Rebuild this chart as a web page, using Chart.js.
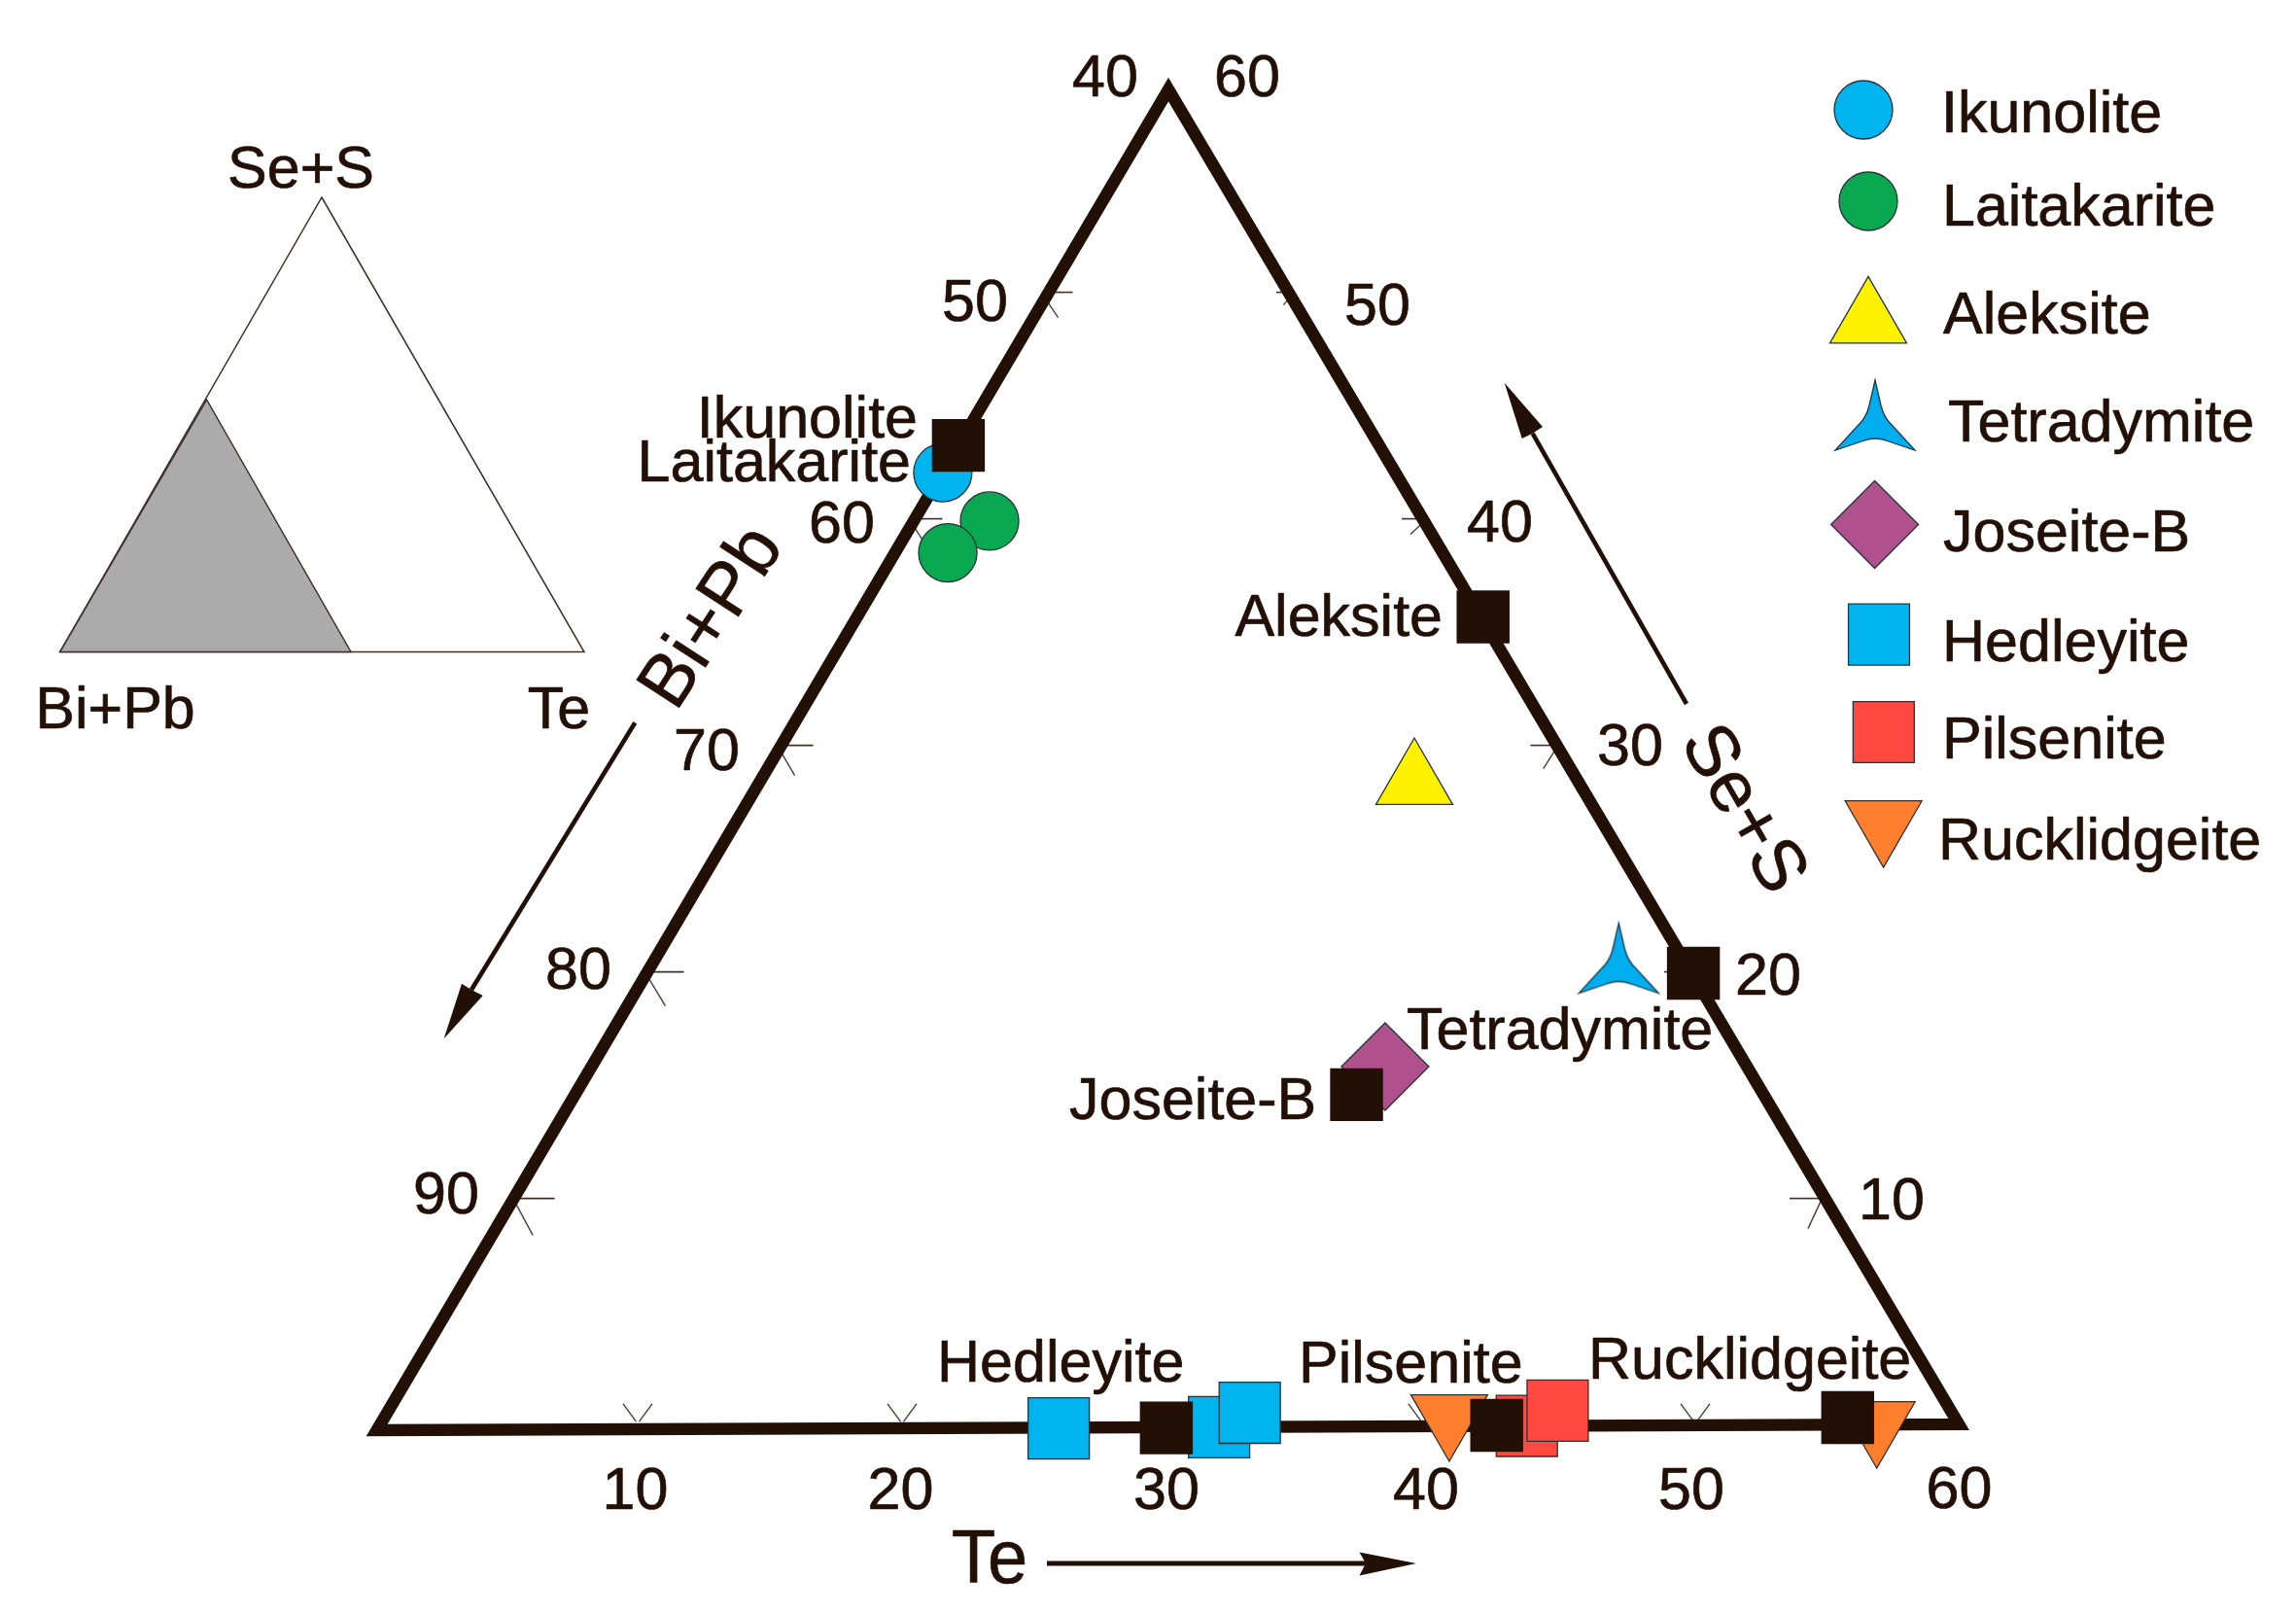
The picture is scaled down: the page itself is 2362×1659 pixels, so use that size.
<!DOCTYPE html>
<html>
<head>
<meta charset="utf-8">
<style>html,body{margin:0;padding:0;background:#fff}canvas{display:block}</style>
<script src="https://cdn.jsdelivr.net/npm/chart.js@4"></script>
</head>
<body>
<canvas id="c" width="2362" height="1659"></canvas>
<script>
// ---------- data: Te and Se+S contents (at.%), Bi+Pb is the remainder ----------
const mineralNames = ["Ikunolite","Laitakarite","Aleksite","Tetradymite","Joseite-B","Hedleyite","Pilsenite","Rucklidgeite"];
const ikunoliteTe = [0.52];            const ikunoliteS = [42.04];
const laitakariteTe = [3.36, 2.48];    const laitakariteS = [39.9, 38.5];
const aleksiteTe = [25.19];            const aleksiteS = [28.37];
const tetradymiteTe = [36.8];          const tetradymiteS = [20.61];
const joseiteTe = [30.36];             const joseiteS = [15.82];
const hedleyiteTe = [26.0, 32.04, 32.88];  const hedleyiteS = [-0.15, -0.1, 0.54];
const pilseniteTe = [43.65, 44.48];    const pilseniteS = [-0.04, 0.63];
const rucklidgeiteTe = [40.52, 56.84]; const rucklidgeiteS = [0.35, 0.05];
// ideal compositions (black squares)
const idealNames = ["Ikunolite","Laitakarite","Aleksite","Tetradymite","Joseite-B","Hedleyite","Pilsenite","Rucklidgeite"];
const idealTe = [0.51, 24.14, 39.96, 29.9, 30.06, 42.5, 55.6];
const idealS = [43.24, 35.67, 19.94, 14.58, -0.13, -0.02, 0.33];
// frame of the main diagram as drawn: starts part-way up the left side so that every corner is a mitred join
const frameTe = [0.43, 0.25, 59.95, 0.6, 0.43];
const frameS = [30, -0.23, 0.03, 58.95, 30];
// tick labels
const bottomTicks = [10,20,30,40,50,60];
const bottomTickAt = [10,20,30,39.7,50];
const leftTicks = [40,50,60,70,80,90];
const rightTicks = [60,50,40,30,20,10];

// ---------- layout constants ----------
const INK = "#221006";
const FONT = '"Liberation Sans", Arial, sans-serif';
const PX0 = 384, PXK = 27.2, PY0 = 1465.6, PYK = 23.3;
const LEFT_TE = 0.35; // left side sits slightly inside the nominal Te=0 line
const toPoint = (te, s) => ({x: te + s / 2, y: s});
const zip = (a, b) => a.map((v, i) => toPoint(v, b[i]));

function starSprite() {
  const c = document.createElement("canvas");
  c.width = 90; c.height = 80;
  const g = c.getContext("2d");
  g.translate(45, 40);
  g.beginPath();
  g.moveTo(0, -36);
  g.lineTo(6, -10);
  g.quadraticCurveTo(9, 3, 18, 11);
  g.lineTo(41, 36);
  g.lineTo(14, 27);
  g.quadraticCurveTo(0, 21, -14, 27);
  g.lineTo(-41, 36);
  g.lineTo(-18, 11);
  g.quadraticCurveTo(-9, 3, -6, -10);
  g.closePath();
  g.fillStyle = "#00aeef"; g.fill();
  g.lineWidth = 1.3; g.strokeStyle = "#173a4a"; g.stroke();
  return c;
}
const star = starSprite();

const markStyles = {
  Ikunolite:    {pointStyle:"circle",   pointRadius:30, pointBackgroundColor:"#00b4f0", pointRotation:0},
  Laitakarite:  {pointStyle:"circle",   pointRadius:30, pointBackgroundColor:"#0aa850", pointRotation:0},
  Aleksite:     {pointStyle:"triangle", pointRadius:45.6, pointBackgroundColor:"#fff200", pointRotation:0},
  Tetradymite:  {pointStyle:star,       pointRadius:45, pointBackgroundColor:"#00aeef", pointRotation:0},
  "Joseite-B":  {pointStyle:"rectRot",  pointRadius:45, pointBackgroundColor:"#b0508c", pointRotation:0},
  Hedleyite:    {pointStyle:"rect",     pointRadius:44.5, pointBackgroundColor:"#00b4f0", pointRotation:0},
  Pilsenite:    {pointStyle:"rect",     pointRadius:44.5, pointBackgroundColor:"#ff4940", pointRotation:0},
  Rucklidgeite: {pointStyle:"triangle", pointRadius:45.6, pointBackgroundColor:"#ff7f2e", pointRotation:180}
};
const series = {
  Ikunolite: zip(ikunoliteTe, ikunoliteS), Laitakarite: zip(laitakariteTe, laitakariteS),
  Aleksite: zip(aleksiteTe, aleksiteS), Tetradymite: zip(tetradymiteTe, tetradymiteS),
  "Joseite-B": zip(joseiteTe, joseiteS), Hedleyite: zip(hedleyiteTe, hedleyiteS),
  Pilsenite: zip(pilseniteTe, pilseniteS), Rucklidgeite: zip(rucklidgeiteTe, rucklidgeiteS)
};
const drawOrder = {Ikunolite:5, Laitakarite:6, Aleksite:5, Tetradymite:5, "Joseite-B":5, Hedleyite:5, Pilsenite:5, Rucklidgeite:5};

const datasets = [
  {label:"Ideal composition", data: zip(idealTe, idealS), order:1, showLine:false,
   pointStyle:"rect", pointRadius:38.5, pointBackgroundColor:INK, pointBorderWidth:0},
  ...mineralNames.map(n => Object.assign({label:n, data:series[n], order:drawOrder[n], showLine:false,
      pointBorderColor:"#26333a", pointBorderWidth:1.3}, markStyles[n])),
  {label:"Frame", data: zip(frameTe, frameS), order:20, showLine:true, borderColor:INK, borderWidth:12.5,
   borderJoinStyle:"miter", pointRadius:0, fill:false, clip:false}
];

// ---------- page text and furniture, in page pixels ----------
const pageText = {
  tickLeft:  [[1137,99],[1003,330],[866,558],[727,792],[595,1017],[459,1248]],
  tickRight: [[1283,99],[1417,334],[1543,557],[1677,787],[1819,1023],[1946,1254]],
  tickBottom:[[653.5,1552],[926.5,1552],[1200,1552],[1467,1552],[1740,1552],[2015.5,1551]],
  tag: {
    Ikunolite:["right",944,450], Laitakarite:["right",937,495], Aleksite:["right",1484,654],
    Tetradymite:["left",1447,1079], "Joseite-B":["left",1100,1151], Hedleyite:["left",964,1421],
    Pilsenite:["left",1336,1421.5], Rucklidgeite:["left",1634,1418]
  },
  legendMark: {Ikunolite:[1917,113],Laitakarite:[1922,207],Aleksite:[1922,330],Tetradymite:[1929,427],
    "Joseite-B":[1928.6,539.5],Hedleyite:[1933,652.6],Pilsenite:[1937.8,753],Rucklidgeite:[1937.6,846.5]},
  legendText: {Ikunolite:[1997,135.5],Laitakarite:[1998,232],Aleksite:[1999,343],Tetradymite:[2004,453.6],
    "Joseite-B":[1999,566.6],Hedleyite:[1998,679.7],Pilsenite:[1998,780],Rucklidgeite:[1994,884]}
};

function line(ctx, x1, y1, x2, y2, w, col) {
  ctx.beginPath(); ctx.moveTo(x1, y1); ctx.lineTo(x2, y2);
  ctx.lineWidth = w; ctx.strokeStyle = col || INK; ctx.stroke();
}
function arrow(ctx, sx, sy, tx, ty, b1x, b1y, nx, ny, b2x, b2y, w) {
  line(ctx, sx, sy, nx, ny, w);
  ctx.beginPath(); ctx.moveTo(tx, ty); ctx.lineTo(b1x, b1y); ctx.lineTo(nx, ny); ctx.lineTo(b2x, b2y); ctx.closePath();
  ctx.fillStyle = INK; ctx.fill();
}
function text(ctx, s, x, y, align, size, rot, baseline, sy) {
  ctx.save();
  ctx.translate(x, y);
  if (rot) ctx.rotate(rot * Math.PI / 180);
  if (sy) ctx.scale(1, sy);
  ctx.font = (size || 61) + "px " + FONT;
  ctx.textAlign = align || "center";
  ctx.textBaseline = baseline || "alphabetic";
  ctx.fillStyle = INK;
  ctx.strokeStyle = INK;
  ctx.lineWidth = 0.7;
  ctx.lineJoin = "round";
  ctx.fillText(s, 0, 0);
  ctx.strokeText(s, 0, 0);
  ctx.restore();
}

const furniture = {
  id: "furniture",
  beforeDatasetsDraw(chart) {
    const {ctx, scales:{x, y}} = chart;
    ctx.save();
    ctx.lineCap = "butt";
    // ticks on the left side
    const lh = [30,32,35,38,41], ldx = [15,15.5,16,19,18.6], ldy = [26,28,31,35,37.8];
    leftTicks.slice(1).forEach((v, i) => {
      const s = 100 - v, px = x.getPixelForValue(LEFT_TE + s / 2), py = y.getPixelForValue(s);
      line(ctx, px + 3, py, px + lh[i], py, 1.6, "#3d3029");
      line(ctx, px + 1.5, py + 6, px + ldx[i], py + ldy[i], 1.4, "#4a3e38");
    });
    // ticks on the right side
    const rh = [23,30,33.6,32,39], rdx = [15.6,21,20.3,20,20], rdy = [13,16,24,24,31];
    rightTicks.slice(1).forEach((s, i) => {
      const px = x.getPixelForValue(60 - s / 2), py = y.getPixelForValue(s);
      line(ctx, px - 7, py, px - rh[i], py, 1.6, "#3d3029");
      line(ctx, px - 7, py + 3, px - rdx[i], py + rdy[i], 1.4, "#4a3e38");
    });
    // ticks on the base
    bottomTickAt.forEach(te => {
      const px = x.getPixelForValue(te), top = y.getPixelForValue(0.93), tip = y.getPixelForValue(0.15);
      line(ctx, px - 15, top, px - 1.5, tip, 1.4, "#4a3e38");
      line(ctx, px + 15, top, px + 1.5, tip, 1.4, "#4a3e38");
    });
    ctx.restore();
  },
  afterDatasetsDraw(chart) {
    const {ctx} = chart;
    ctx.save();
    // inset key triangle
    ctx.beginPath(); ctx.moveTo(331, 203); ctx.lineTo(601, 670.5); ctx.lineTo(61.7, 670.5); ctx.closePath();
    ctx.lineWidth = 1.5; ctx.strokeStyle = "#3d3029"; ctx.stroke();
    ctx.beginPath(); ctx.moveTo(212.6, 411); ctx.lineTo(361, 670.5); ctx.lineTo(61.7, 670.5); ctx.closePath();
    ctx.fillStyle = "#ababab"; ctx.fill(); ctx.stroke();
    text(ctx, "Se+S", 309.5, 193);
    text(ctx, "Bi+Pb", 118.5, 749);
    text(ctx, "Te", 575, 749);
    // arrows
    arrow(ctx, 653.3,743.3, 456.7,1068.3, 475,1011.7, 485,1018, 496.7,1024, 4.6);
    arrow(ctx, 1735,724, 1547.7,393.7, 1565.7,451, 1576.7,445.8, 1587,439, 4.6);
    arrow(ctx, 1077,1608, 1457,1608, 1398.5,1596.6, 1405,1608, 1398.5,1620.5, 4.8);
    // axis titles
    text(ctx, "Bi+Pb", 733.6, 635.7, "center", 76, -57, "middle");
    text(ctx, "Se+S", 1792, 833, "center", 75, 60, "middle");
    text(ctx, "Te", 1018, 1627.5, "center", 74, 0, "alphabetic", 1.05);
    // tick labels
    leftTicks.forEach((v, i) => text(ctx, String(v), pageText.tickLeft[i][0], pageText.tickLeft[i][1]));
    rightTicks.forEach((v, i) => text(ctx, String(v), pageText.tickRight[i][0], pageText.tickRight[i][1]));
    bottomTicks.forEach((v, i) => text(ctx, String(v), pageText.tickBottom[i][0], pageText.tickBottom[i][1]));
    // mineral tags next to the ideal compositions
    idealNames.forEach(n => { const t = pageText.tag[n]; text(ctx, n, t[1], t[2], t[0]); });
    // legend
    mineralNames.forEach(n => {
      const st = markStyles[n], m = pageText.legendMark[n], t = pageText.legendText[n];
      ctx.fillStyle = st.pointBackgroundColor; ctx.strokeStyle = "#26333a"; ctx.lineWidth = 1.3;
      Chart.helpers.drawPoint(ctx, {pointStyle: st.pointStyle, radius: st.pointRadius, rotation: st.pointRotation, borderWidth: 1.3}, m[0], m[1]);
      text(ctx, n, t[0], t[1], "left");
    });
    ctx.restore();
  }
};

new Chart(document.getElementById("c"), {
  type: "scatter",
  data: {datasets},
  plugins: [furniture],
  options: {
    responsive: false, animation: false, devicePixelRatio: 1,
    layout: {padding: 0, autoPadding: false},
    plugins: {legend: {display:false}, tooltip: {enabled:false}, title: {display:false}},
    scales: {
      x: {type:"linear", display:false, min: -PX0 / PXK, max: (2362 - PX0) / PXK},
      y: {type:"linear", display:false, min: (PY0 - 1659) / PYK, max: PY0 / PYK}
    }
  }
});
</script>
</body>
</html>
